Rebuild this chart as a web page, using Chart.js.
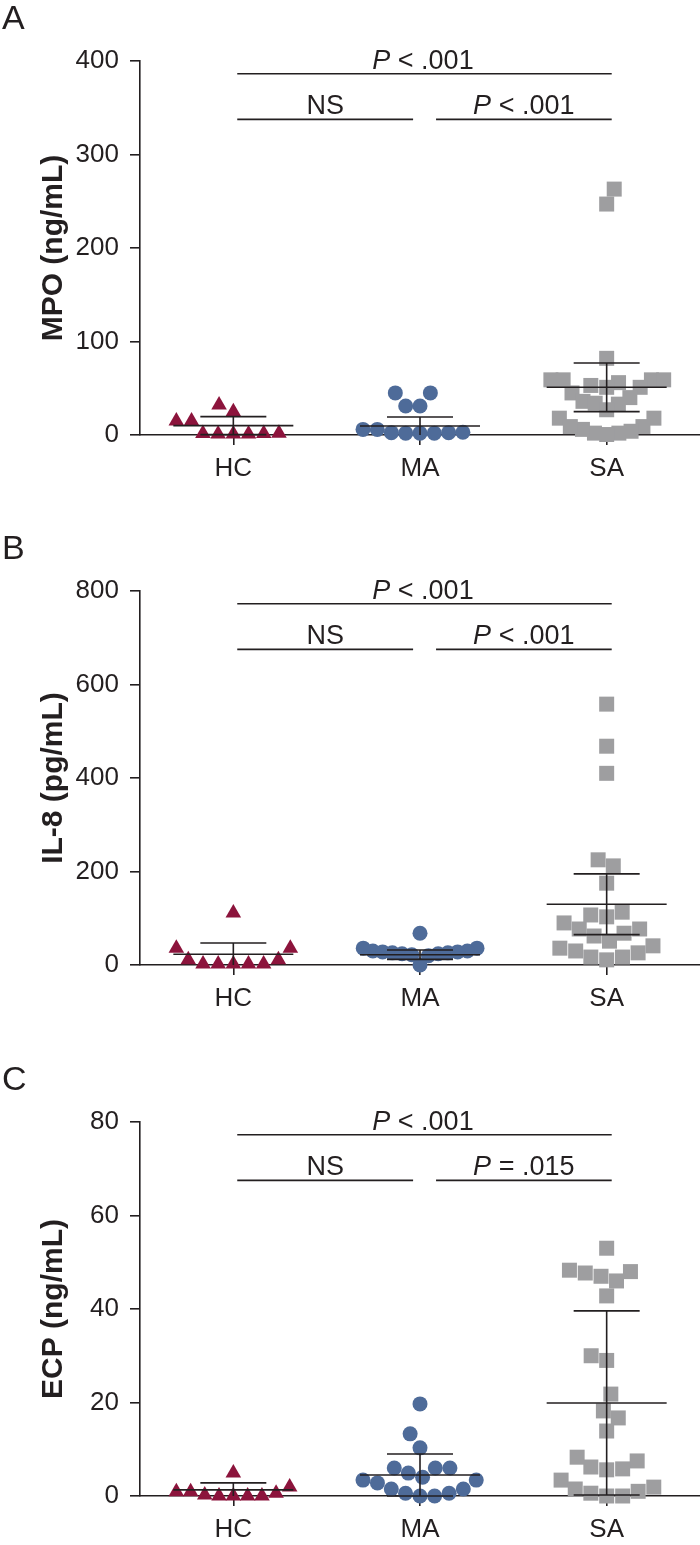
<!DOCTYPE html>
<html>
<head>
<meta charset="utf-8">
<script src="https://cdn.jsdelivr.net/npm/chart.js@4.4.1/dist/chart.umd.min.js"></script>
<style>
  html, body { margin: 0; padding: 0; background: #fff; overflow: hidden; }
  .panel { position: absolute; left: 0; width: 700px; height: 484px; }
</style>
</head>
<body>
<div class="panel" style="top:0px"><canvas id="chartA" width="700" height="484"></canvas></div>
<div class="panel" style="top:530px"><canvas id="chartB" width="700" height="484"></canvas></div>
<div class="panel" style="top:1061px"><canvas id="chartC" width="700" height="484"></canvas></div>
<script>
// groups on the x axis
const groups = ['HC', 'MA', 'SA'];

// A - MPO (ng/mL)
const mpoTicks = [0, 100, 200, 300, 400];
const mpoHC = [32, 25, 15, 15, 1, 1.5, 1, 2, 1, 1.5];
const mpoMA = [45, 45, 31, 31, 6, 6, 2, 2.5, 2, 3, 2.5, 2];
const mpoSA = [263, 247, 82, 59, 59, 56, 51, 53, 59, 59, 51, 45, 36, 33, 34, 40, 27, 18, 18, 9, 4, 2, 0.5, 2, 6, 9];
const mpoMean = [10, 9.6, 51];
const mpoSD = [9.6, 9.7, 26];
const mpoSig = ['P < .001', 'NS', 'P < .001'];

// B - IL-8 (pg/mL)
const il8Ticks = [0, 200, 400, 600, 800];
const il8HC = [111, 36, 36, 11, 2, 2, 2, 2, 2, 11];
const il8MA = [68, 30, 28, 26, 24, 36, 36, 24, 22, 26, 30, 28, 20, 0];
const il8SA = [558, 468, 410, 225, 212, 175, 113, 103, 77, 68, 62, 77, 90, 107, 51, 36, 26, 17, 11, 17, 30, 41];
const il8Mean = [23, 22, 130];
const il8SD = [24, 10, 65];
const il8Sig = ['P < .001', 'NS', 'P < .001'];

// C - ECP (ng/mL)
const ecpTicks = [0, 20, 40, 60, 80];
const ecpHC = [4.9, 1.9, 0.6, 0, 0, 0, 0, 0.2, 0.9, 0.9];
const ecpMA = [19.7, 13.3, 10.3, 6, 6, 6, 4.9, 4, 3.4, 2.8, 3.4, 1.5, 1.5, 0.6, 0, 0, 0.6];
const ecpSA = [53, 48.3, 46, 47.7, 47, 48, 42.8, 29, 30, 21.8, 18.2, 16.7, 13.9, 7.5, 8.3, 5.8, 5.6, 6.2, 3.4, 1.5, 0.6, 0, 0, 1, 1.9];
const ecpMean = [1.3, 4.5, 19.9];
const ecpSD = [1.5, 4.5, 19.7];
const ecpSig = ['P < .001', 'NS', 'P = .015'];

const FONT = "'Liberation Sans', Arial, Helvetica, sans-serif";
const INK = '#231F20';
const colors = ['#8C143C', '#4E6B99', '#9E9EA0'];
const shapes = ['triangle', 'circle', 'rect'];
const radii = [9, 7.5, 10.6];

// simple beeswarm in pixel space: lowest values first, nearest free spot to the centre
function swarm(pys, dx, dy, maxHalf) {
    const order = pys.map((p, i) => i).sort((a, b) => pys[b] - pys[a]);
    const placed = [];
    const xs = new Array(pys.length).fill(0);
    let side = 1;
    order.forEach(i => {
        const y = pys[i];
        const iv = [];
        placed.forEach(p => {
            const d = Math.abs(p.y - y);
            if (d < dy) {
                const h = dx * Math.sqrt(1 - (d / dy) * (d / dy));
                iv.push([p.x - h, p.x + h]);
            }
        });
        const cands = [0];
        iv.forEach(v => cands.push(v[0], v[1]));
        const ok = cands.filter(c => iv.every(v => c <= v[0] + 1e-6 || c >= v[1] - 1e-6));
        ok.sort((a, b) => (Math.abs(a) - Math.abs(b)) || (side * (b - a)));
        const x = ok[0];
        if (x !== 0) side = -side;
        xs[i] = x;
        placed.push({ x: x, y: y });
    });
    // squeeze wide groups back into the column
    const widest = Math.max(...xs.map(Math.abs));
    if (widest > maxHalf) {
        return xs.map(x => x * maxHalf / widest);
    }
    return xs;
}

function drawSigText(ctx, label, cx, baseY) {
    const size = 27;
    ctx.textBaseline = 'alphabetic';
    if (label.startsWith('P')) {
        const rest = label.slice(1);
        ctx.font = 'italic ' + size + 'px ' + FONT;
        const wP = ctx.measureText('P').width;
        ctx.font = size + 'px ' + FONT;
        const wR = ctx.measureText(rest).width;
        const x0 = cx - (wP + wR) / 2;
        ctx.textAlign = 'left';
        ctx.font = 'italic ' + size + 'px ' + FONT;
        ctx.fillText('P', x0, baseY);
        ctx.font = size + 'px ' + FONT;
        ctx.fillText(rest, x0 + wP, baseY);
    } else {
        ctx.font = size + 'px ' + FONT;
        ctx.textAlign = 'center';
        ctx.fillText(label, cx, baseY);
    }
}

function makePanel(id, letter, yTitle, ticks, series, means, sds, sig) {
    const yMax = ticks[ticks.length - 1];
    const annot = {
        id: 'annot' + letter,
        afterDatasetsDraw(chart) {
            const ctx = chart.ctx;
            const xs = chart.scales.x, ys = chart.scales.y;
            ctx.save();
            ctx.strokeStyle = INK;
            ctx.fillStyle = INK;
            ctx.lineWidth = 1.6;
            // mean and SD bars
            means.forEach((m, k) => {
                const cx = xs.getPixelForValue(k + 1);
                const ym = ys.getPixelForValue(m);
                const hi = ys.getPixelForValue(m + sds[k]);
                const lo = ys.getPixelForValue(Math.max(0, m - sds[k]));
                ctx.beginPath();
                ctx.moveTo(cx - 60, ym); ctx.lineTo(cx + 60, ym);
                ctx.moveTo(cx, hi); ctx.lineTo(cx, lo);
                ctx.moveTo(cx - 33, hi); ctx.lineTo(cx + 33, hi);
                if (m - sds[k] >= 0) { ctx.moveTo(cx - 33, lo); ctx.lineTo(cx + 33, lo); }
                ctx.stroke();
            });
            // significance lines
            const yTop = ys.getPixelForValue(yMax * 0.966);
            const yLow = ys.getPixelForValue(yMax * 0.844);
            const px = v => xs.getPixelForValue(v);
            ctx.beginPath();
            ctx.moveTo(px(1.021), yTop); ctx.lineTo(px(3.027), yTop);
            ctx.moveTo(px(1.021), yLow); ctx.lineTo(px(1.963), yLow);
            ctx.moveTo(px(2.086), yLow); ctx.lineTo(px(3.027), yLow);
            ctx.stroke();
            drawSigText(ctx, sig[0], px(2.016), yTop - 5);
            drawSigText(ctx, sig[1], px(1.492), yLow - 5);
            drawSigText(ctx, sig[2], px(2.556), yLow - 5);
            // panel letter
            ctx.font = '34px ' + FONT;
            ctx.textAlign = 'left';
            ctx.textBaseline = 'alphabetic';
            ctx.fillText(letter, 2, 29);
            ctx.restore();
        }
    };

    const chart = new Chart(document.getElementById(id), {
        type: 'scatter',
        data: {
            datasets: series.map((vals, k) => ({
                label: groups[k],
                data: vals.map(v => ({ x: k + 1, y: v })),
                pointStyle: shapes[k],
                pointRadius: radii[k],
                backgroundColor: colors[k],
                borderColor: colors[k],
                borderWidth: 0,
                clip: false
            }))
        },
        options: {
            responsive: false,
            animation: false,
            events: [],
            layout: { autoPadding: false, padding: { top: 61, right: 0, bottom: 0, left: 0 } },
            plugins: { legend: { display: false }, tooltip: { enabled: false } },
            scales: {
                x: {
                    type: 'linear',
                    min: 0.5,
                    max: 3.5,
                    afterBuildTicks: s => { s.ticks = groups.map((g, i) => ({ value: i + 1 })); },
                    afterFit: s => { s.height = 49; },
                    ticks: {
                        callback: v => groups[v - 1],
                        color: INK,
                        font: { family: FONT, size: 26 },
                        padding: 8,
                        maxRotation: 0
                    },
                    grid: { drawOnChartArea: false, tickLength: 10, color: INK, lineWidth: 1.6 },
                    border: { color: INK, width: 1.6 }
                },
                y: {
                    min: ticks[0],
                    max: yMax,
                    afterBuildTicks: s => { s.ticks = ticks.map(v => ({ value: v })); },
                    afterFit: s => { s.width = 140; },
                    ticks: {
                        color: INK,
                        font: { family: FONT, size: 26 },
                        padding: 11
                    },
                    grid: { drawOnChartArea: false, tickLength: 10, color: INK, lineWidth: 1.6 },
                    border: { color: INK, width: 1.6 },
                    title: {
                        display: true,
                        text: yTitle,
                        color: INK,
                        font: { family: FONT, size: 30, weight: 'bold' },
                        padding: { top: 36, bottom: 0 }
                    }
                }
            }
        },
        plugins: [annot]
    });

    // spread the points sideways so they do not overlap
    const xs = chart.scales.x, ys = chart.scales.y;
    const unit = xs.getPixelForValue(2) - xs.getPixelForValue(1);
    chart.data.datasets.forEach((ds, k) => {
        const offs = swarm(series[k].map(v => ys.getPixelForValue(v)), 16, 19, 57);
        ds.data = series[k].map((v, i) => ({ x: k + 1 + offs[i] / unit, y: v }));
    });
    chart.update('none');
    return chart;
}

makePanel('chartA', 'A', 'MPO (ng/mL)', mpoTicks, [mpoHC, mpoMA, mpoSA], mpoMean, mpoSD, mpoSig);
makePanel('chartB', 'B', 'IL-8 (pg/mL)', il8Ticks, [il8HC, il8MA, il8SA], il8Mean, il8SD, il8Sig);
makePanel('chartC', 'C', 'ECP (ng/mL)', ecpTicks, [ecpHC, ecpMA, ecpSA], ecpMean, ecpSD, ecpSig);
</script>
</body>
</html>
